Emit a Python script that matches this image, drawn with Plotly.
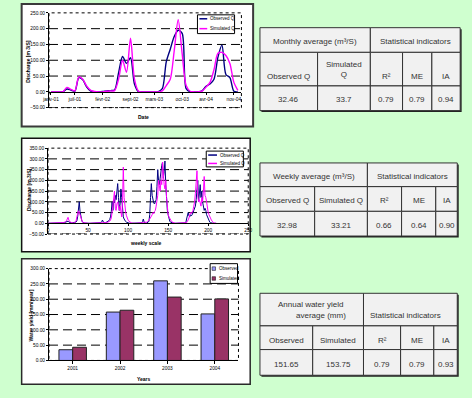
import plotly.graph_objects as go

W, H = 472, 398

# ---------------- data ----------------
# Monthly discharge (m3/s), one value per month from Jan 2001 to Dec 2004
monthly_obs = [0, 0, 0, 0, 9, 6, 2, 45, 38, 15,
               2, 0, 0, 1, 3, 4, 6, 60, 112, 90,
               108, 25, 1, 0, 0, 0, 0, 1, 10, 95,
               135, 175, 195, 185, 10, 0, 0, 0, 3, 18,
               25, 40, 110, 148, 55, 45, 2, 0]
monthly_sim = [0, 0, 0, 0, 14, 8, 3, 47, 40, 18,
               5, 1, 0, 0, 2, 3, 4, 40, 100, 62,
               170, 40, 2, 0, 0, 0, 0, 0, 3, 20,
               40, 130, 228, 120, 20, 2, 0, 0, 2, 15,
               30, 70, 122, 125, 115, 90, 30, 5]
month_tick_pos = [0, 6, 13, 20, 26, 33, 39, 46]
month_tick_text = ["janv-01", "juil-01", "févr-02", "sept-02",
                   "mars-03", "oct-03", "avr-04", "nov-04"]

# Weekly discharge (m3/s), weeks 0 .. 210
weekly_obs = [0, 0, 0, 0, 0, 0, 0, 0, 0, 0,
              0, 0, 0, 0, 1, 2, 2, 3, 2, 2,
              3, 4, 5, 8, 6, 10, 6, 4, 3, 2,
              2, 2, 3, 3, 5, 6, 12, 30, 60, 100,
              55, 30, 15, 6, 3, 2, 1, 1, 0, 0,
              0, 0, 0, 0, 0, 0, 0, 0, 0, 0,
              0, 0, 0, 0, 0, 1, 3, 8, 15, 6,
              3, 2, 3, 5, 6, 8, 12, 18, 30, 55,
              100, 60, 110, 95, 130, 110, 150, 185, 120, 60,
              90, 160, 120, 50, 30, 20, 12, 8, 5, 3,
              2, 1, 0, 0, 0, 0, 0, 0, 0, 0,
              0, 0, 0, 0, 0, 0, 0, 2, 8, 20,
              5, 2, 1, 1, 2, 5, 10, 40, 120, 185,
              130, 100, 95, 90, 100, 110, 170, 250, 200, 180,
              210, 250, 270, 285, 210, 240, 290, 180, 100, 60,
              40, 20, 10, 5, 3, 2, 1, 0, 0, 0,
              0, 0, 0, 0, 0, 0, 0, 0, 0, 0,
              0, 0, 2, 20, 30, 50, 35, 30, 40, 35,
              40, 50, 55, 60, 80, 110, 150, 200, 100, 130,
              180, 120, 150, 100, 80, 60, 70, 60, 40, 30,
              20, 12, 5, 3, 1, 0, 0, 0, 0, 0,
              0]
weekly_sim = [0, 0, 0, 0, 0, 0, 0, 0, 0, 0,
              0, 0, 0, 0, 0, 1, 1, 2, 2, 3,
              4, 5, 8, 12, 20, 28, 15, 8, 5, 3,
              2, 2, 2, 3, 5, 10, 30, 45, 58, 50,
              40, 25, 12, 6, 3, 2, 1, 0, 0, 0,
              0, 0, 0, 0, 0, 0, 0, 0, 0, 0,
              0, 0, 0, 0, 0, 0, 1, 2, 3, 2,
              2, 2, 3, 3, 4, 5, 8, 10, 15, 25,
              50, 80, 120, 150, 70, 60, 90, 100, 80, 60,
              80, 40, 30, 100, 262, 120, 70, 50, 35, 20,
              15, 10, 6, 4, 2, 1, 0, 0, 0, 0,
              0, 0, 0, 0, 0, 0, 0, 1, 2, 3,
              5, 5, 4, 5, 8, 10, 15, 20, 25, 30,
              40, 50, 45, 55, 60, 80, 100, 130, 200, 180,
              150, 200, 180, 285, 200, 180, 160, 200, 120, 60,
              40, 30, 20, 15, 10, 6, 4, 2, 1, 0,
              0, 0, 0, 0, 0, 0, 0, 0, 0, 0,
              0, 0, 1, 3, 8, 15, 25, 40, 50, 45,
              55, 60, 80, 100, 140, 200, 245, 130, 100, 110,
              90, 80, 120, 100, 150, 218, 130, 120, 100, 60,
              50, 40, 30, 20, 15, 10, 5, 2, 1, 0,
              0]

# Annual water yield (mm/year)
years = ["2001", "2002", "2003", "2004"]
yield_obs = [35, 158, 260, 152]
yield_sim = [43, 164, 207, 201]

# Statistics tables
monthly_head = ["Monthly average (m³/S)", "Statistical indicators"]
monthly_cols = ["Observed Q", "Simulated<br>Q", "R²", "ME", "IA"]
monthly_vals = ["32.46", "33.7", "0.79", "0.79", "0.94"]

weekly_head = ["Weekly average (m³/S)", "Statistical indicators"]
weekly_cols = ["Observed Q", "Simulated Q", "R²", "ME", "IA"]
weekly_vals = ["32.98", "33.21", "0.66", "0.64", "0.90"]

annual_head = ["Annual water yield", "average (mm)", "Statistical indicators"]
annual_cols = ["Observed", "Simulated", "R²", "ME", "IA"]
annual_vals = ["151.65", "153.75", "0.79", "0.79", "0.93"]

# ---------------- styling helpers ----------------
BG = "#cfffcf"
OBS_LINE = "#000080"
SIM_LINE = "#ff00ff"
OBS_BAR = "#9999ff"
SIM_BAR = "#993366"
AX_FONT = dict(family="Liberation Sans, Arial, sans-serif", size=4.8, color="#000")
TAB_FONT = dict(family="Liberation Sans, Arial, sans-serif", size=8, color="#333333")


def px(x):
    return x / W


def py(y):
    return 1 - y / H


shapes = []
annotations = []


def panel(x0, y0, x1, y1, color, width):
    shapes.append(dict(type="rect", xref="paper", yref="paper", layer="below",
                       x0=px(x0), x1=px(x1), y0=py(y0), y1=py(y1),
                       fillcolor="white", line=dict(color=color, width=width)))


def label(x, y, text, font, angle=0, xanchor="center"):
    annotations.append(dict(xref="paper", yref="paper", x=px(x), y=py(y), text=text,
                            showarrow=False, font=font, textangle=angle,
                            xanchor=xanchor, yanchor="middle"))


def frame(xa, ya, grid_vals):
    # dashed horizontal grid and a dotted outline of the plotting area
    for v in grid_vals:
        shapes.append(dict(type="line", xref=f"{xa} domain", yref=ya, layer="below",
                           x0=0, x1=1, y0=v, y1=v,
                           line=dict(color="black", width=1, dash="9px,5px")))
    shapes.append(dict(type="rect", xref=f"{xa} domain", yref=f"{ya} domain", layer="below",
                       x0=0, x1=1, y0=0, y1=1,
                       line=dict(color="black", width=1, dash="dot")))


def line_legend(box, rows, line_x, text_x):
    x0, y0, x1, y1 = box
    shapes.append(dict(type="rect", xref="paper", yref="paper", layer="above",
                       x0=px(x0), x1=px(x1), y0=py(y0), y1=py(y1),
                       fillcolor="white", line=dict(color="black", width=1)))
    for y, color, name in rows:
        shapes.append(dict(type="line", xref="paper", yref="paper", layer="above",
                           x0=px(line_x[0]), x1=px(line_x[1]), y0=py(y), y1=py(y),
                           line=dict(color=color, width=1.5)))
        label(text_x, y, name, dict(AX_FONT, size=4.5), xanchor="left")


def table(col_x, row_y, head, cols, vals, head_pos, col_y, val_y):
    shapes.append(dict(type="rect", xref="paper", yref="paper", layer="below",
                       x0=px(col_x[0] + 1.5), x1=px(col_x[-1] + 1.5),
                       y0=py(row_y[-1] + 1.5), y1=py(row_y[0] + 1.5),
                       fillcolor="#222222", line=dict(width=0)))
    spans = [[(col_x[0], col_x[2]), (col_x[2], col_x[5])],
             [(col_x[i], col_x[i + 1]) for i in range(5)],
             [(col_x[i], col_x[i + 1]) for i in range(5)]]
    for r, row in enumerate(spans):
        for a, b in row:
            shapes.append(dict(type="rect", xref="paper", yref="paper", layer="below",
                               x0=px(a), x1=px(b), y0=py(row_y[r + 1]), y1=py(row_y[r]),
                               fillcolor="#f1f1f1", line=dict(color="#333333", width=1)))
    for (x, y), t in zip(head_pos, head):
        label(x, y, t, TAB_FONT)
    for i, t in enumerate(cols):
        label((col_x[i] + col_x[i + 1]) / 2, col_y[i], t, TAB_FONT)
    for i, t in enumerate(vals):
        label((col_x[i] + col_x[i + 1]) / 2, val_y, t, TAB_FONT)


# ---------------- panels ----------------
panel(15, 2, 252, 126, "#3a3a3a", 2)
panel(15, 138, 249, 253, "#111111", 1.5)
panel(15, 260, 249, 387, "#2a2a2a", 1.5)

fig = go.Figure()

# monthly chart
fig.add_trace(go.Scatter(x=list(range(len(monthly_obs))), y=monthly_obs, mode="lines",
                         line=dict(color=OBS_LINE, width=1.4, shape="spline", smoothing=0.8),
                         xaxis="x", yaxis="y", showlegend=False))
fig.add_trace(go.Scatter(x=list(range(len(monthly_sim))), y=monthly_sim, mode="lines",
                         line=dict(color=SIM_LINE, width=1.4, shape="spline", smoothing=0.8),
                         xaxis="x", yaxis="y", showlegend=False))

# weekly chart
fig.add_trace(go.Scatter(x=list(range(len(weekly_obs))), y=weekly_obs, mode="lines",
                         line=dict(color=OBS_LINE, width=1),
                         xaxis="x2", yaxis="y2", showlegend=False))
fig.add_trace(go.Scatter(x=list(range(len(weekly_sim))), y=weekly_sim, mode="lines",
                         line=dict(color=SIM_LINE, width=1),
                         xaxis="x2", yaxis="y2", showlegend=False))

# annual chart
fig.add_trace(go.Bar(x=years, y=yield_obs, marker=dict(color=OBS_BAR, line=dict(color="#222", width=1)),
                     xaxis="x3", yaxis="y3", showlegend=False))
fig.add_trace(go.Bar(x=years, y=yield_sim, marker=dict(color=SIM_BAR, line=dict(color="#222", width=1)),
                     xaxis="x3", yaxis="y3", showlegend=False))

frame("x", "y", [-50, 50, 100, 150, 200])
frame("x2", "y2", [-50, 50, 100, 150, 200, 250, 300])
frame("x3", "y3", [50, 100, 150, 200, 250])

common_y = dict(showline=True, linecolor="black", linewidth=1, ticks="outside", ticklen=2,
                tickcolor="black", tickfont=AX_FONT, tickformat=".2f", showgrid=False,
                zeroline=False, fixedrange=True)
common_x = dict(showline=True, linecolor="black", linewidth=1, ticks="outside", ticklen=2,
                tickcolor="black", tickfont=AX_FONT, showgrid=False, zeroline=False)

# axis titles
bold = dict(AX_FONT, size=5)
label(22, 60, "<b>Discharge [m 3/S]</b>", bold, angle=-90)
label(140, 116, "<b>Date</b>", bold)
label(22, 190, "<b>Discharge [m 3/S]</b>", bold, angle=-90)
label(142, 244, "<b>weekly scale</b>", bold)
label(25, 317, "<b>Water yield [mm/year]</b>", bold, angle=-90)
label(140, 382, "<b>Years</b>", bold)

# legends
line_legend((195, 13, 233, 32), [(17, OBS_LINE, "Observed Q"), (27, SIM_LINE, "Simulated Q")],
            (197, 205), 206)
line_legend((204, 151, 242, 167), [(155, OBS_LINE, "Observed Q"), (163.5, SIM_LINE, "Simulated Q")],
            (206, 215), 216)
shapes.append(dict(type="rect", xref="paper", yref="paper", layer="above",
                   x0=px(208), x1=px(236), y0=py(285), y1=py(265),
                   fillcolor="white", line=dict(color="black", width=1)))
for y, c, name in [(270, OBS_BAR, "Observed"), (280, SIM_BAR, "Simulated")]:
    shapes.append(dict(type="rect", xref="paper", yref="paper", layer="above",
                       x0=px(210), x1=px(213.5), y0=py(y + 1.8), y1=py(y - 1.8),
                       fillcolor=c, line=dict(color="black", width=0.5)))
    label(214.5, y, name, dict(AX_FONT, size=4.5), xanchor="left")

# tables
table([259, 318, 372, 405, 435, 464], [26, 51, 85, 110],
      monthly_head, monthly_cols, monthly_vals,
      [(315.5, 40), (418, 40)], [75, 68, 75, 75, 75], 99)
table([259, 315, 369, 404, 439, 461], [163, 187, 212, 237],
      weekly_head, weekly_cols, weekly_vals,
      [(314, 176.5), (415, 176.5)], [201, 201, 201, 201, 201], 226.5)
table([259, 313, 365, 403, 437, 461], [295, 328, 352, 378],
      annual_head, annual_cols, annual_vals,
      [(311, 306.5), (321, 317.5), (408, 317.5)], [343] * 5, 367)

fig.update_layout(
    width=W, height=H, margin=dict(l=0, r=0, t=0, b=0),
    paper_bgcolor=BG, plot_bgcolor="white",
    shapes=shapes, annotations=annotations,
    barmode="group", bargap=0.42, bargroupgap=0,
    xaxis=dict(common_x, domain=[px(43), px(240)], range=[-0.5, 47.9],
               anchor="free", position=py(91),
               tickvals=month_tick_pos, ticktext=month_tick_text),
    yaxis=dict(common_y, domain=[py(107), py(11)], range=[-50, 250],
               tickvals=[-50, 0, 50, 100, 150, 200, 250], anchor="x"),
    xaxis2=dict(common_x, domain=[px(42), px(247)], range=[0, 250],
                anchor="free", position=py(224),
                tickvals=[0, 50, 100, 150, 200, 250]),
    yaxis2=dict(common_y, domain=[py(235), py(148)], range=[-50, 350],
                tickvals=[-50, 0, 50, 100, 150, 200, 250, 300, 350], anchor="x2"),
    xaxis3=dict(common_x, domain=[px(43), px(237)], anchor="y3", ticklen=3,
                type="category"),
    yaxis3=dict(common_y, domain=[py(363), py(270)], range=[0, 300],
                tickvals=[0, 50, 100, 150, 200, 250, 300], anchor="x3"),
)

fig.write_html("out.html")
